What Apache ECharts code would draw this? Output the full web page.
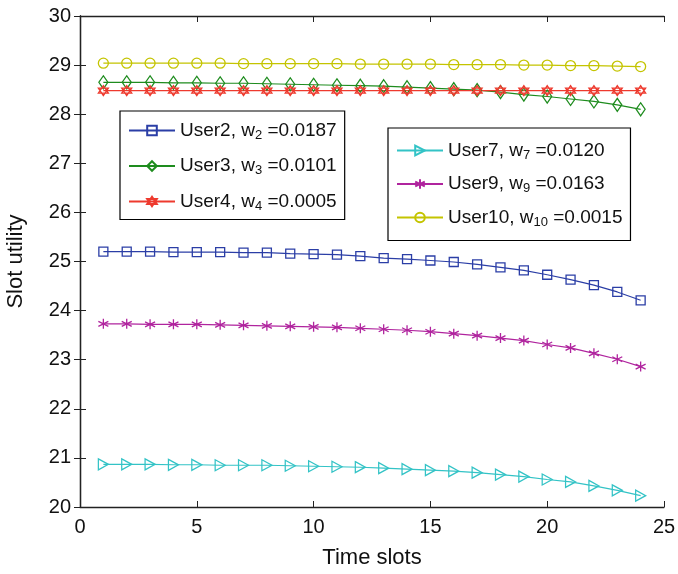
<!DOCTYPE html>
<html>
<head>
<meta charset="utf-8">
<script src="https://cdn.jsdelivr.net/npm/echarts@6/dist/echarts.min.js"></script>
<style>
  html, body { margin: 0; padding: 0; background: #fff; }
  #chart { width: 678px; height: 574px; }
</style>
</head>
<body>
<div id="chart"></div>
<script>
// time slots on the x axis
var slots = [1, 2, 3, 4, 5, 6, 7, 8, 9, 10, 11, 12, 13, 14, 15, 16, 17, 18, 19, 20, 21, 22, 23, 24]

var user2 = [25.20, 25.20, 25.20, 25.19, 25.19, 25.19, 25.18, 25.18, 25.16, 25.15, 25.14, 25.11, 25.07, 25.05, 25.02, 24.99, 24.94, 24.88, 24.82, 24.73, 24.63, 24.52, 24.38, 24.21]
var user3 = [28.65, 28.65, 28.65, 28.64, 28.64, 28.63, 28.63, 28.62, 28.61, 28.60, 28.59, 28.58, 28.57, 28.55, 28.53, 28.51, 28.49, 28.45, 28.40, 28.36, 28.31, 28.26, 28.19, 28.10]
var user4 = [28.48, 28.48, 28.48, 28.48, 28.48, 28.48, 28.48, 28.48, 28.48, 28.48, 28.48, 28.48, 28.48, 28.48, 28.48, 28.48, 28.48, 28.48, 28.48, 28.48, 28.48, 28.48, 28.48, 28.48]
var user7 = [20.87, 20.87, 20.87, 20.86, 20.86, 20.85, 20.85, 20.85, 20.84, 20.83, 20.82, 20.81, 20.79, 20.77, 20.75, 20.73, 20.70, 20.66, 20.62, 20.56, 20.51, 20.43, 20.34, 20.23]
var user9 = [23.73, 23.73, 23.72, 23.72, 23.72, 23.71, 23.70, 23.69, 23.68, 23.67, 23.66, 23.64, 23.62, 23.60, 23.57, 23.53, 23.49, 23.44, 23.39, 23.31, 23.24, 23.13, 23.01, 22.86]
var user10 = [29.04, 29.04, 29.04, 29.04, 29.04, 29.04, 29.03, 29.03, 29.03, 29.03, 29.03, 29.02, 29.02, 29.02, 29.02, 29.01, 29.01, 29.01, 29.00, 29.00, 28.99, 28.99, 28.98, 28.97]

// legend labels: [subscript, weight]
var labels = {
  User2: ['2', '0.0187'],
  User3: ['3', '0.0101'],
  User4: ['4', '0.0005'],
  User7: ['7', '0.0120'],
  User9: ['9', '0.0163'],
  User10: ['10', '0.0015']
}

var font = 'Liberation Sans, Arial, sans-serif'

var hexagram = 'path://M5,0 L9.33,7.5 L0.67,7.5 Z M5,10 L0.67,2.5 L9.33,2.5 Z'
var asterisk = 'path://M5,0 L5,10 M0.7,2.5 L9.3,7.5 M9.3,2.5 L0.7,7.5'
var triRight = 'path://M0,0 L10,5 L0,10 Z'

function pairs(ys) {
  return slots.map(function(x, i) { return [x, ys[i]] })
}

function makeSeries(name, ys, color, symbol, size) {
  return {
    name: name,
    type: 'line',
    data: pairs(ys),
    symbol: symbol,
    symbolSize: size,
    showAllSymbol: true,
    lineStyle: { color: color, width: 1.2 },
    itemStyle: { color: 'rgba(255,255,255,0)', borderColor: color, borderWidth: 1.3 },
    emphasis: { disabled: true },
    animation: false
  }
}

function legendFmt(name) {
  var l = labels[name]
  return name + ', w{s|' + l[0] + '} =' + l[1]
}

var legendText = {
  fontFamily: font,
  fontSize: 19,
  color: '#111',
  rich: {
    s: { fontFamily: font, fontSize: 13, color: '#111', verticalAlign: 'bottom', padding: [9, 0, 0, 0] }
  }
}

var chart = echarts.init(document.getElementById('chart'))

chart.setOption({
  backgroundColor: '#fff',
  grid: { left: 80, right: 14, top: 16, bottom: 67, outerBoundsMode: 'none', containLabel: false },
  legend: [
    {
      data: ['User2', 'User3', 'User4'],
      orient: 'vertical',
      left: 120,
      top: 111,
      itemWidth: 46,
      itemHeight: 12,
      itemGap: 15,
      padding: [10, 8, 7, 8],
      borderColor: '#000',
      borderWidth: 1.2,
      formatter: legendFmt,
      textStyle: legendText,
      selectedMode: false
    },
    {
      data: ['User7', 'User9', 'User10'],
      orient: 'vertical',
      left: 388,
      top: 128,
      itemWidth: 46,
      itemHeight: 12,
      itemGap: 13,
      padding: [13, 8, 12, 8],
      borderColor: '#000',
      borderWidth: 1.2,
      formatter: legendFmt,
      textStyle: legendText,
      selectedMode: false
    }
  ],
  xAxis: [
    {
      type: 'value',
      min: 0,
      max: 25,
      interval: 5,
      name: 'Time slots',
      nameLocation: 'middle',
      nameGap: 40,
      nameTextStyle: { fontFamily: font, fontSize: 22, color: '#111' },
      axisLine: { lineStyle: { color: '#222', width: 1.3 } },
      axisTick: { inside: true, length: 6, lineStyle: { color: '#222' } },
      axisLabel: { fontFamily: font, fontSize: 20, color: '#111', margin: 10 },
      splitLine: { show: false }
    },
    {
      type: 'value',
      position: 'top',
      min: 0,
      max: 25,
      interval: 5,
      axisLine: { lineStyle: { color: '#222', width: 1.3 } },
      axisTick: { inside: true, length: 6, lineStyle: { color: '#222' } },
      axisLabel: { show: false },
      splitLine: { show: false }
    }
  ],
  yAxis: [
    {
      type: 'value',
      min: 20,
      max: 30,
      interval: 1,
      name: 'Slot utility',
      nameLocation: 'middle',
      nameGap: 53,
      nameTextStyle: { fontFamily: font, fontSize: 22, color: '#111' },
      axisLine: { show: true, lineStyle: { color: '#222', width: 1.3 } },
      axisTick: { show: true, inside: true, length: 6, lineStyle: { color: '#222' } },
      axisLabel: { fontFamily: font, fontSize: 20, color: '#111', margin: 9 },
      splitLine: { show: false }
    },
    {
      type: 'value',
      position: 'right',
      min: 20,
      max: 30,
      interval: 1,
      axisLine: { show: true, lineStyle: { color: '#222', width: 1.3 } },
      axisTick: { show: true, inside: true, length: 6, lineStyle: { color: '#222' } },
      axisLabel: { show: false },
      splitLine: { show: false }
    }
  ],
  series: [
    makeSeries('User2', user2, '#2b3ea6', 'rect', 9),
    makeSeries('User3', user3, '#1e8c1e', 'diamond', [9, 13]),
    makeSeries('User4', user4, '#ee3a2e', hexagram, 10),
    makeSeries('User7', user7, '#33c3c6', triRight, [10, 11]),
    makeSeries('User9', user9, '#b0249e', asterisk, 10),
    makeSeries('User10', user10, '#c4c400', 'circle', 10)
  ]
})
</script>
</body>
</html>
